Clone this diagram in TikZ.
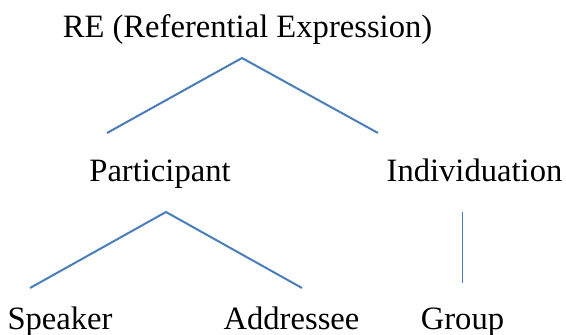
\documentclass[tikz,border=0pt]{standalone}
\usepackage{fontspec}
\setmainfont{Liberation Serif}
\usetikzlibrary{positioning}
\definecolor{branchblue}{HTML}{4A7EBB}

\begin{document}
\begin{tikzpicture}[
      x=1pt, y=-1pt,
      label/.style={anchor=base, inner sep=0pt, font=\fontsize{32.6}{39}\selectfont},
      branch/.style={draw=branchblue, line width=2pt}
    ]
    \useasboundingbox (0,0) rectangle (566,335);
    % labels
    \node[label] (re) at (247.5,37) {RE (Referential Expression)};
    \node[label] (part) at (160,181) {Participant};
    \node[label] (indiv) at (474.5,181) {Individuation};
    \node[label] (spk) at (60,329) {Speaker};
    \node[label] (addr) at (291.5,329) {Addressee};
    \node[label] (grp) at (462.5,329) {Group};
    % branch ends
    \coordinate (reTop) at (242,58);
    \coordinate (reL) at (107,133);
    \coordinate (reR) at (378,133);
    \coordinate (partTop) at (166,212);
    \coordinate (partL) at (30,288);
    \coordinate (partR) at (302,288);
    \coordinate (indivTop) at (462,212);
    \coordinate (indivBot) at (462,283);
    \draw[branch] (reL) -- (reTop) -- (reR);
    \draw[branch] (partL) -- (partTop) -- (partR);
    \draw[branch, line width=1pt] (indivTop) -- (indivBot);
  \end{tikzpicture}
\end{document}
